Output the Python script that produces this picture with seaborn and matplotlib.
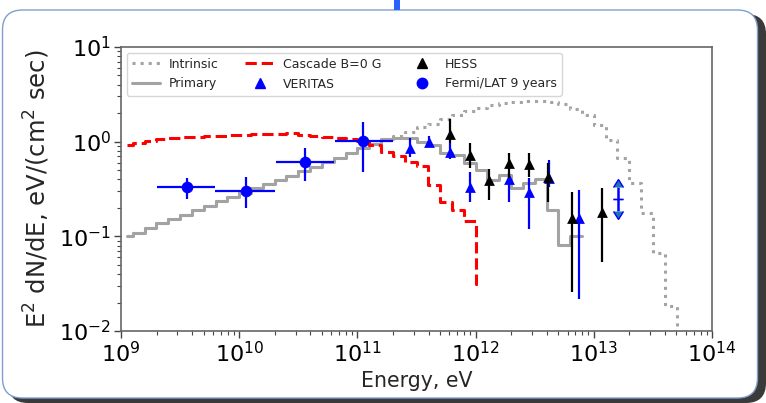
import numpy as np
import pandas as pd
import seaborn as sns
import matplotlib
matplotlib.use("Agg")
import matplotlib.pyplot as plt
from matplotlib.lines import Line2D
from matplotlib.patches import FancyBboxPatch, Rectangle

# ---------------- data (log10 energy bin edges / log10 E^2 dN/dE) ----------------
primary_edges = [9.05] + [round(9.1 + 0.1 * k, 2) for k in range(38)] + [12.9]
primary_logy = [-1.00, -0.96, -0.91, -0.86, -0.82, -0.77, -0.72, -0.68, -0.63, -0.58,
                -0.54, -0.49, -0.45, -0.40, -0.36, -0.31, -0.27, -0.22, -0.17, -0.12,
                -0.07, -0.02, 0.03, 0.04, 0.04, 0.00, -0.035, -0.12, -0.14, -0.23,
                -0.30, -0.40, -0.35, -0.49, -0.44, -0.39, -0.72, -1.09, -1.00]

intrinsic_edges = [9.05] + [round(9.1 + 0.1 * k, 2) for k in range(47)] + [13.8]
intrinsic_logy = [-1.00, -0.96, -0.91, -0.86, -0.82, -0.77, -0.72, -0.68, -0.63, -0.58,
                  -0.54, -0.49, -0.45, -0.40, -0.36, -0.31, -0.27, -0.22, -0.17, -0.12,
                  -0.07, -0.02, 0.03, 0.06, 0.10, 0.15, 0.19, 0.24, 0.28, 0.32,
                  0.36, 0.39, 0.41, 0.42, 0.43, 0.43, 0.42, 0.40, 0.34, 0.28,
                  0.18, 0.02, -0.17, -0.44, -0.75, -1.18, -1.74, -2.60]

cascade_edges = [9.05] + [round(9.1 + 0.1 * k, 2) for k in range(30)] + [12.05]
cascade_logy = [-0.03, -0.01, 0.01, 0.025, 0.035, 0.045, 0.05, 0.057, 0.063, 0.068,
                0.072, 0.076, 0.079, 0.083, 0.087, 0.075, 0.065, 0.053, 0.04, 0.025,
                0.01, -0.035, -0.105, -0.155, -0.22, -0.257, -0.457, -0.634, -0.72, -0.834,
                -1.50]

# Fermi/LAT 9 years
fermi_E = [3.6e9, 1.14e10, 3.6e10, 1.11e11]
fermi_y = [0.330, 0.304, 0.615, 1.026]
fermi_Elo = [2.03e9, 6.3e9, 2.04e10, 6.46e10]
fermi_Ehi = [6.3e9, 2.0e10, 6.3e10, 2.0e11]
fermi_ylo = [0.248, 0.201, 0.38, 0.482]
fermi_yhi = [0.41, 0.42, 0.85, 1.62]

# VERITAS
ver_E = [2.79e11, 4.07e11, 6.03e11, 8.9e11, 1.93e12, 2.85e12, 4.2e12, 7.5e12]
ver_y = [0.85, 1.0, 0.776, 0.335, 0.40, 0.296, 0.41, 0.158]
ver_ylo = [0.695, 0.89, 0.65, 0.232, 0.232, 0.119, 0.33, 0.0216]
ver_yhi = [1.10, 1.15, 0.96, 0.482, 0.468, 0.417, 0.64, 0.309]
# VERITAS interval drawn as a double arrow
verlim_E = [1.61e13]
verlim_y = [0.25]
verlim_lo = [0.187]
verlim_hi = [0.335]

# HESS
hess_E = [6.03e11, 8.9e11, 1.29e12, 1.93e12, 2.85e12, 4.12e12, 6.5e12, 1.17e13]
hess_y = [1.20, 0.724, 0.389, 0.59, 0.582, 0.42, 0.155, 0.182]
hess_ylo = [0.977, 0.525, 0.242, 0.41, 0.42, 0.232, 0.026, 0.054]
hess_yhi = [1.73, 0.96, 0.513, 0.766, 0.766, 0.59, 0.296, 0.324]

# ---------------- style ----------------
sns.set_style("ticks")
plt.rcParams["font.family"] = ["DejaVu Sans"]
plt.rcParams["mathtext.fontset"] = "dejavusans"

W, H = 766, 403
fig = plt.figure(figsize=(W / 100, H / 100), dpi=100)


def px(x, y):
    return (x / 100, (H - y) / 100)


shadow = FancyBboxPatch(px(8, 403), 758 / 100, 389 / 100,
                        boxstyle="round,pad=0,rounding_size=0.2",
                        transform=fig.dpi_scale_trans, fc="#3a3a3a", ec="none", zorder=-3)
frame = FancyBboxPatch(px(2.5, 398), 755 / 100, 388 / 100,
                       boxstyle="round,pad=0,rounding_size=0.2",
                       transform=fig.dpi_scale_trans, fc="white", ec="#7f9fcf", lw=1.0, zorder=-2)
topbar = Rectangle(px(394, 10), 6 / 100, 10 / 100, transform=fig.dpi_scale_trans,
                   fc="#2a62ff", ec="none", zorder=-1)
fig.add_artist(shadow)
fig.add_artist(frame)
fig.add_artist(topbar)

ax = fig.add_axes([121 / W, 1 - 331 / H, (712 - 121) / W, (331 - 47) / H])
ax.set_zorder(5)
ax.patch.set_alpha(0)


def step_df(edges, logy):
    vals = list(logy) + [logy[-1]]
    return pd.DataFrame({"E": 10 ** np.array(edges, float), "F": 10 ** np.array(vals, float)})


grey = "#a3a3a3"
sns.lineplot(data=step_df(intrinsic_edges, intrinsic_logy), x="E", y="F", ax=ax,
             drawstyle="steps-post", estimator=None, sort=False, color=grey,
             linestyle=":", linewidth=2.2, zorder=2)
sns.lineplot(data=step_df(primary_edges, primary_logy), x="E", y="F", ax=ax,
             drawstyle="steps-post", estimator=None, sort=False, color=grey,
             linestyle="-", linewidth=2.2, zorder=2.1)
sns.lineplot(data=step_df(cascade_edges, cascade_logy), x="E", y="F", ax=ax,
             drawstyle="steps-post", estimator=None, sort=False, color="red",
             linestyle="--", linewidth=2.2, zorder=2.2)

# VERITAS
ver_y_arr = np.array(ver_y)
ax.errorbar(ver_E, ver_y, yerr=[ver_y_arr - np.array(ver_ylo), np.array(ver_yhi) - ver_y_arr],
            fmt="none", ecolor="blue", elinewidth=1.6, zorder=3)
sns.scatterplot(x=ver_E, y=ver_y, ax=ax, marker="^", s=60, color="blue",
                edgecolor="blue", linewidth=0, zorder=3.1)
vl = np.array(verlim_y)
ax.errorbar(verlim_E, verlim_y, yerr=[np.zeros(1), np.array(verlim_hi) - vl],
            fmt="none", ecolor="blue", elinewidth=1.8, lolims=True,
            capsize=3.8, zorder=3)
ax.errorbar(verlim_E, verlim_y, yerr=[vl - np.array(verlim_lo), np.zeros(1)],
            fmt="none", ecolor="blue", elinewidth=1.8, uplims=True,
            capsize=3.8, zorder=3)

# HESS
hess_y_arr = np.array(hess_y)
ax.errorbar(hess_E, hess_y, yerr=[hess_y_arr - np.array(hess_ylo), np.array(hess_yhi) - hess_y_arr],
            fmt="none", ecolor="black", elinewidth=1.6, zorder=4)
sns.scatterplot(x=hess_E, y=hess_y, ax=ax, marker="^", s=60, color="black",
                edgecolor="black", linewidth=0, zorder=4.1)

# Fermi
fy = np.array(fermi_y)
fE = np.array(fermi_E)
ax.errorbar(fermi_E, fermi_y,
            xerr=[fE - np.array(fermi_Elo), np.array(fermi_Ehi) - fE],
            yerr=[fy - np.array(fermi_ylo), np.array(fermi_yhi) - fy],
            fmt="none", ecolor="blue", elinewidth=1.6, zorder=5)
sns.scatterplot(x=fermi_E, y=fermi_y, ax=ax, marker="o", s=70, color="blue",
                edgecolor="blue", linewidth=0, zorder=5.1)

ax.set_xscale("log")
ax.set_yscale("log")
ax.set_xlim(1e9, 1e14)
ax.set_ylim(1e-2, 1e1)
ax.set_xlabel("Energy, eV", fontsize=14.8, labelpad=4)
ax.set_ylabel(r"E$^2$ dN/dE, eV/(cm$^2$ sec)", fontsize=17.5, labelpad=5)
ax.tick_params(axis="both", which="major", labelsize=16, length=5, width=1, colors="#444444",
               labelcolor="black", pad=2)
ax.tick_params(axis="both", which="minor", length=3, width=0.8, colors="#444444")
for s in ax.spines.values():
    s.set_color("#666666")
    s.set_linewidth(1.2)
    s.set_visible(True)

handles = [
    Line2D([], [], color=grey, linestyle=":", linewidth=2.2, label="Intrinsic"),
    Line2D([], [], color=grey, linestyle="-", linewidth=2.2, label="Primary"),
    Line2D([], [], color="red", linestyle="--", linewidth=2.2, label="Cascade B=0 G"),
    Line2D([], [], color="blue", marker="^", linestyle="none", markersize=7, label="VERITAS"),
    Line2D([], [], color="black", marker="^", linestyle="none", markersize=7, label="HESS"),
    Line2D([], [], color="blue", marker="o", linestyle="none", markersize=7.5, label="Fermi/LAT 9 years"),
]
leg = ax.legend(handles=handles, loc="upper left", ncol=3, fontsize=9, frameon=True,
                borderaxespad=0.45, handlelength=2.3, columnspacing=2.1,
                labelspacing=0.55, handletextpad=0.7)
leg.get_frame().set_edgecolor("#cccccc")

fig.savefig("out.png", dpi=100)
